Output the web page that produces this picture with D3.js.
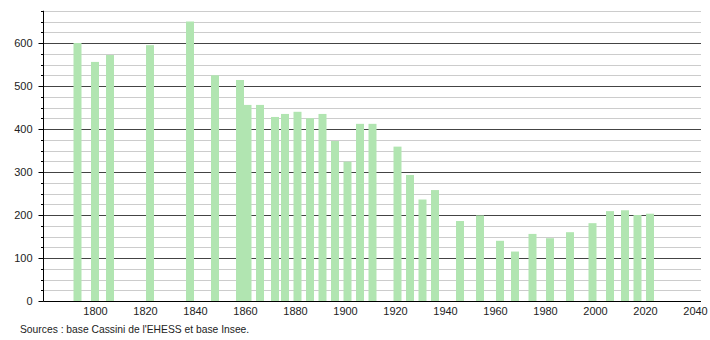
<!DOCTYPE html>
<html>
<head>
<meta charset="utf-8">
<script src="https://cdn.jsdelivr.net/npm/d3@7"></script>
<style>
  body { margin: 0; background: #fff; }
  #chart { width: 710px; height: 340px; }
  text { font-family: "Liberation Sans", Arial, sans-serif; }
</style>
</head>
<body>
<div id="chart"></div>
<script>
// Population by census year
var years = [1793, 1800, 1806, 1822, 1838, 1848, 1858, 1861, 1866, 1872, 1876, 1881, 1886, 1891, 1896,
             1901, 1906, 1911, 1921, 1926, 1931, 1936, 1946, 1954, 1962, 1968, 1975, 1982, 1990, 1999,
             2006, 2012, 2017, 2022];
var population = [600, 556, 572, 595, 650, 525, 514, 456, 456, 428, 435, 440, 425, 435, 372,
                  324, 412, 412, 359, 293, 236, 258, 186, 199, 140, 115, 156, 146, 160, 181,
                  209, 211, 200, 203];
var xTicks = [1800, 1820, 1840, 1860, 1880, 1900, 1920, 1940, 1960, 1980, 2000, 2020, 2040];
var yTicks = [0, 100, 200, 300, 400, 500, 600];
var sourceText = "Sources : base Cassini de l'EHESS et base Insee.";

var width = 710, height = 340;
var plot = {left: 44, right: 701, top: 10.75, bottom: 301};

var svg = d3.select("#chart")
  .append("svg")
    .attr("width", width)
    .attr("height", height);

// scales
var x = d3.scaleLinear()
    .domain([1779.6, 2042.4])
    .range([plot.left, plot.right]);

var y = d3.scaleLinear()
    .domain([0, 675])
    .range([plot.bottom, plot.top]);

// minor grid every 25
var minor = d3.range(25, 676, 25).filter(function(v) { return v % 100 !== 0; });
svg.append("g")
  .selectAll("line")
  .data(minor)
  .enter()
  .append("line")
    .attr("x1", plot.left)
    .attr("x2", plot.right)
    .attr("y1", function(d) { return Math.round(y(d)) + 0.5; })
    .attr("y2", function(d) { return Math.round(y(d)) + 0.5; })
    .attr("stroke", "#cccccc")
    .attr("stroke-width", 1);

// major grid every 100
svg.append("g")
  .selectAll("line")
  .data(yTicks.filter(function(d) { return d > 0; }))
  .enter()
  .append("line")
    .attr("x1", plot.left)
    .attr("x2", plot.right)
    .attr("y1", function(d) { return Math.round(y(d)) + 0.5; })
    .attr("y2", function(d) { return Math.round(y(d)) + 0.5; })
    .attr("stroke", "#444444")
    .attr("stroke-width", 1);

// bars
svg.append("g")
  .selectAll("rect")
  .data(years)
  .enter()
  .append("rect")
    .attr("x", function(d) { return x(d) - 4; })
    .attr("width", 8)
    .attr("y", function(d, i) { return y(population[i]); })
    .attr("height", function(d, i) { return y(0) - y(population[i]); })
    .attr("fill", "#b1e5b1");

// Y axis: long ticks at 100, short ticks every 25
var yAxis = svg.append("g")
    .attr("transform", "translate(" + (plot.left - 0.5) + ",0)")
    .call(d3.axisLeft(y).tickValues(yTicks).tickSize(5).tickPadding(6));
yAxis.select(".domain").attr("d", "M0," + plot.top + "V" + (Math.round(y(0)) + 0.5));
yAxis.selectAll("text").attr("font-size", "11px").attr("fill", "#222").attr("font-family", "Liberation Sans, Arial, sans-serif");
yAxis.selectAll(".tick line").attr("stroke", "#000");

svg.append("g")
  .selectAll("line")
  .data(minor)
  .enter()
  .append("line")
    .attr("x1", plot.left - 3)
    .attr("x2", plot.left)
    .attr("y1", function(d) { return Math.round(y(d)) + 0.5; })
    .attr("y2", function(d) { return Math.round(y(d)) + 0.5; })
    .attr("stroke", "#000");

// X axis (no tick marks)
var xAxis = svg.append("g")
    .attr("transform", "translate(0," + (Math.round(y(0)) + 0.5) + ")")
    .call(d3.axisBottom(x).tickValues(xTicks).tickSize(0).tickPadding(6).tickFormat(d3.format("d")));
xAxis.select(".domain").attr("d", "M" + (plot.left - 0.5) + ",0H" + plot.right).attr("stroke", "#000");
xAxis.selectAll("text").attr("font-size", "11px").attr("fill", "#222").attr("font-family", "Liberation Sans, Arial, sans-serif");

// source note
svg.append("text")
    .attr("x", 20)
    .attr("y", 333)
    .attr("font-size", "10.3px")
    .attr("fill", "#222")
    .text(sourceText);
</script>
</body>
</html>
